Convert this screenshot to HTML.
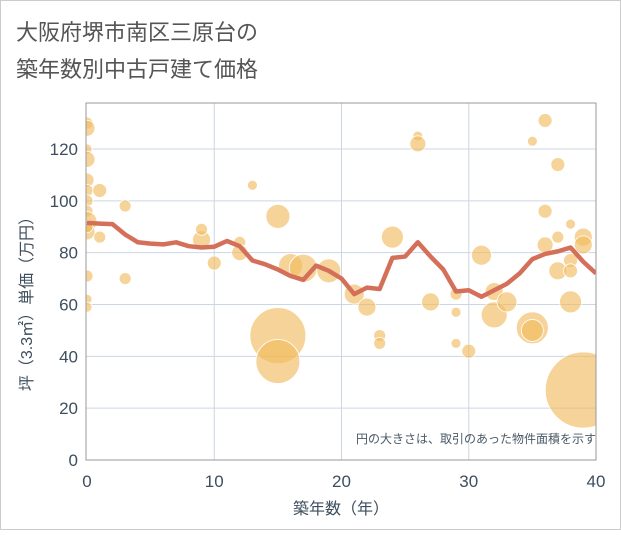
<!DOCTYPE html>
<html><head><meta charset="utf-8"><style>
body{margin:0;background:#fff;font-family:"Liberation Sans","Noto Sans CJK JP",sans-serif}
</style></head><body>
<svg id="c" width="621" height="530" xmlns="http://www.w3.org/2000/svg">
<defs><clipPath id="clip"><rect x="86" y="103" width="510" height="357"/></clipPath></defs>
<rect x="0.5" y="0.5" width="620" height="529" fill="#fff" stroke="#ccc"/>
<text x="16" y="40" font-size="22" fill="#555" font-family="Liberation Sans,Noto Sans CJK JP,sans-serif">大阪府堺市南区三原台の</text>
<text x="16" y="77" font-size="22" fill="#555" font-family="Liberation Sans,Noto Sans CJK JP,sans-serif">築年数別中古戸建て価格</text>
<g id="grid"></g><g id="bubbles" clip-path="url(#clip)"></g><g id="line" clip-path="url(#clip)"></g><g id="axes"></g>
<text x="596" y="443" font-size="12" fill="#4a5866" text-anchor="end" font-family="Liberation Sans,Noto Sans CJK JP,sans-serif">円の大きさは、取引のあった物件面積を示す</text>
<text x="341" y="514" font-size="16" fill="#3e4e5e" text-anchor="middle" font-family="Liberation Sans,Noto Sans CJK JP,sans-serif">築年数（年）</text>
<text transform="translate(32,300) rotate(-90)" font-size="16" fill="#3e4e5e" text-anchor="middle" font-family="Liberation Sans,Noto Sans CJK JP,sans-serif">坪（3.3㎡）単価（万円）</text>
</svg>
<script>
const xTicks=[0,10,20,30,40];
const yTicks=[0,20,40,60,80,100,120];
const lineX=[0,1,2,3,4,5,6,7,8,9,10,11,12,13,14,15,16,17,18,19,20,21,22,23,24,25,26,27,28,29,30,31,32,33,34,35,36,37,38,39,40];
const lineY=[91.5,91.2,91,87,84,83.5,83.2,84,82.5,82,82.3,84.5,82.5,77,75.5,73.5,71,69.5,75,73,70,64,66.5,66,78,78.5,84,78.5,73.5,65,65.5,63,65.5,68,72,77.5,79.5,80.5,82,76.5,72];
const bubX=[0,0,0,0,0,0,0,0,0,0,0,0,0,0,1,1,3,3,9,9,10,12,12,13,15,15,15,16,17,19,21,22,23,23,24,26,26,27,29,29,29,30,31,32,32,33,35,35,35,36,36,36,37,37,37,38,38,38,38,39,39,39];
const bubY=[130,128,120,116,108,104,100,96,92,88,71,62,59,90,104,86,98,70,85,89,76,84,80,106,94,48,38,75,74,73,64,59,48,45,86,125,122,61,64,57,45,42,79,56,65,61,51,50,123,131,96,83,114,73,86,91,77,73,61,86,83,27];
const bubR=[6,8,5,8,7,6,6,6,10,8,6,5,5,6,7,6,6,6,9,6,7,6,8,5,12,28,22,12,14,12,10,9,6,6,11,5,8,9,6,5,5,7,10,13,9,10,16,11,5,7,7,8,7,9,6,5,7,7,11,9,9,38];
const NS="http://www.w3.org/2000/svg";
const L=87,R=596,T=103,B=460;
const sx=v=>L+(v-0)*(R-L)/40;
const sy=v=>B-v*(B-149)/120;
function mk(t,a,p){const e=document.createElementNS(NS,t);for(const k in a)e.setAttribute(k,a[k]);p.appendChild(e);return e;}
const g=document.getElementById('grid'),ax=document.getElementById('axes'),bg=document.getElementById('bubbles'),lg=document.getElementById('line');
for(const v of yTicks){const y=sy(v);
const ln=mk('line',{x1:86,x2:R,y1:y,y2:y,stroke:'#cdd6e3','stroke-width':1},g);


const t=mk('text',{x:78,y:y+6,'font-size':17,fill:'#3e4e5e','text-anchor':'end'},ax);t.textContent=v;

}
for(const v of xTicks){const x=sx(v);
if(v>0&&v<40){const ln=mk('line',{x1:x,x2:x,y1:T,y2:B,stroke:'#cdd6e3','stroke-width':1},g);

}
const t=mk('text',{x:x,y:487,'font-size':17,fill:'#3e4e5e','text-anchor':'middle'},ax);t.textContent=v;

}
const fr=mk('rect',{x:86,y:T,width:R-86,height:B-T,fill:'none',stroke:'#999','stroke-width':1},ax);


for(let i=0;i<bubX.length;i++){
const c=mk('circle',{cx:sx(bubX[i]),cy:sy(bubY[i]),r:bubR[i],fill:'rgba(240,185,90,0.62)',stroke:'#fff','stroke-width':0.8},bg);

}
const pts=lineX.map((v,i)=>sx(v)+','+sy(lineY[i])).join(' ');
const pl=mk('polyline',{points:pts,fill:'none',stroke:'#d4705a','stroke-width':4.5,'stroke-linejoin':'round'},lg);


</script>
</body></html>
